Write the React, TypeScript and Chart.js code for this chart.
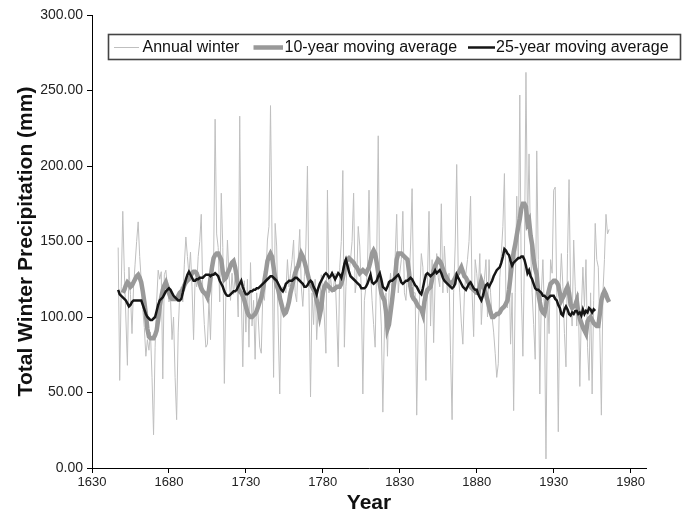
import React, { useEffect, useRef } from "react";
import { Chart, registerables } from "chart.js";

Chart.register(...registerables);

// ---------------- data ----------------
const annualStartYear = 1647;
const annualWinter: number[] = [
  146, 58, 120,
  170, 130, 100, 68, 133, 115, 89, 120, 135, 150,
  163, 140, 124, 105, 93, 74, 85, 78, 90, 60,
  22, 80, 110, 131, 125, 130, 59, 128, 131, 120,
  110, 113, 85, 100, 60, 32, 90, 115, 120, 110,
  135, 153, 140, 128, 143, 120, 85, 126, 120, 140,
  150, 168, 115, 95, 80, 82, 112, 85, 125, 133,
  231, 155, 146, 110, 182, 146, 56, 116, 151, 129,
  111, 129, 115, 127, 127, 100, 233, 116, 67, 124,
  90, 125, 80, 136, 94, 111, 72, 116, 100, 80,
  76, 116, 111, 127, 151, 160, 240, 151, 60, 162,
  147, 94, 49, 116, 120, 118, 116, 138, 120, 129,
  138, 151, 116, 110, 138, 158, 120, 107, 127, 147,
  200, 116, 47, 116, 95, 125, 85, 107, 110, 128,
  116, 100, 76, 184, 116, 127, 116, 120, 129, 100,
  67, 133, 150, 197, 80, 120, 138, 129, 138, 150,
  182, 116, 124, 160, 147, 116, 49, 111, 120, 131,
  184, 129, 111, 95, 80, 138, 220, 116, 94, 37,
  90, 116, 74, 116, 129, 116, 120, 140, 168, 116,
  129, 138, 170, 116, 111, 129, 120, 147, 185, 116,
  116, 35, 94, 116, 142, 133, 100, 58, 126, 170,
  94, 138, 83, 126, 142, 126, 120, 175, 116, 147,
  129, 116, 129, 75, 32, 116, 147, 201, 129, 116,
  96, 82, 116, 129, 138, 150, 180, 116, 87, 138,
  129, 116, 142, 95, 116, 125, 138, 100, 138, 116,
  100, 90, 76, 60, 69, 126, 142, 160, 195, 111,
  106, 138, 82, 116, 38, 116, 180, 138, 247, 116,
  74, 138, 262, 160, 208, 146, 116, 95, 72, 210,
  138, 49, 116, 138, 102, 6, 116, 89, 138, 129,
  184, 186, 116, 24, 116, 142, 120, 89, 67, 142,
  191, 116, 94, 151, 120, 94, 116, 54, 104, 133,
  107, 138, 80, 58, 116, 49, 111, 162, 138, 133,
  90, 35, 116, 138, 168, 155, 158,
];

const tenYearStartYear = 1650;
const tenYearAverage: number[] = [
  116, 118, 121, 123, 122, 120, 121, 123, 125, 127,
  128, 126, 123, 117, 110, 102, 92, 87, 86, 86,
  86, 88, 91, 98, 107, 113, 118, 121, 123, 120,
  116, 113, 112, 112, 112, 112, 114, 116, 117, 118,
  121, 123, 124, 125, 127, 129, 130, 130, 129, 126,
  122, 119, 117, 116, 115, 113, 118, 126, 133, 139,
  141, 142, 142, 140, 138, 130, 125, 126, 129, 131,
  134, 136, 137, 133, 127, 119, 117, 116, 114, 111,
  107, 103, 101, 100, 100, 101, 102, 104, 107, 110,
  113, 118, 124, 130, 137, 140, 142, 140, 133, 126,
  121, 118, 113, 109, 105, 102, 103, 106, 110, 116,
  120, 125, 129, 132, 134, 138, 142, 140, 137, 133,
  129, 125, 122, 120, 118, 116, 111, 107, 101, 106,
  116, 120, 122, 121, 120, 119, 118, 118, 119, 120,
  120, 120, 122, 126, 131, 137, 138, 139, 138, 137,
  136, 134, 133, 131, 129, 130, 131, 130, 129, 131,
  133, 137, 142, 144, 142, 136, 129, 122, 116, 113,
  111, 104, 92, 95, 103, 111, 120, 127, 138, 142,
  142, 142, 141, 140, 139, 138, 130, 120, 114, 112,
  111, 109, 107, 106, 105, 102, 110, 115, 118, 119,
  120, 125, 131, 134, 136, 138, 137, 135, 132, 129,
  127, 125, 123, 122, 123, 124, 126, 128, 129, 131,
  133, 130, 127, 126, 124, 122, 120, 119, 118, 117,
  116, 116, 120, 124, 121, 118, 115, 111, 107, 103,
  100, 100, 101, 102, 102, 103, 105, 106, 107, 109,
  111, 118, 127, 136, 143, 148, 154, 160, 165, 172,
  175, 175, 173, 162, 164, 154, 148, 138, 132, 128,
  116, 110, 105, 103, 102, 107, 114, 118, 122, 123,
  124, 124, 123, 121, 116, 111, 113, 115, 118, 120,
  116, 108, 106, 107, 108, 111, 103, 99, 96, 93,
  91, 89, 97, 99, 100, 98, 96, 95, 94, 94,
  102, 111, 115, 117, 115, 112, 110,
];

const twentyFiveStartYear = 1647;
const twentyFiveYearAverage: number[] = [
  118, 115, 114,
  113, 112, 111, 109, 107, 108, 110, 111, 111, 111,
  111, 111, 111, 108, 105, 102, 100, 99, 98, 98,
  99, 100, 104, 108, 111, 112, 113, 115, 117, 118,
  119, 118, 116, 114, 113, 112, 111, 111, 112, 116,
  121, 125, 128, 130, 128, 126, 124, 124, 125, 125,
  126, 126, 126, 127, 128, 128, 128, 127, 128, 128,
  129, 128, 127, 124, 122, 120, 117, 115, 114, 114,
  115, 116, 117, 117, 118, 120, 122, 124, 120, 117,
  115, 115, 116, 117, 117, 118, 118, 119, 119, 120,
  121, 122, 123, 124, 125, 126, 127, 127, 126, 125,
  124, 122, 120, 118, 117, 119, 122, 123, 124, 124,
  124, 125, 126, 126, 125, 124, 123, 122, 120, 120,
  121, 123, 124, 123, 120, 118, 115, 119, 122, 124,
  126, 128, 129, 128, 126, 127, 129, 127, 125, 127,
  129, 128, 126, 130, 135, 138, 134, 130, 127, 126,
  125, 124, 123, 122, 121, 119, 119, 119, 120, 122,
  125, 128, 123, 122, 123, 124, 127, 129, 125, 120,
  119, 118, 120, 123, 124, 124, 125, 126, 127, 128,
  126, 123, 122, 123, 124, 124, 125, 126, 125, 123,
  121, 120, 118, 116, 115, 119, 124, 128, 129, 128,
  127, 128, 129, 131, 129, 130, 131, 129, 126, 124,
  123, 122, 121, 120, 119, 120, 122, 128, 126, 124,
  122, 120, 119, 118, 120, 122, 123, 121, 119, 118,
  118, 115, 113, 111, 114, 118, 121, 122, 120, 122,
  124, 127, 129, 131, 132, 133, 136, 140, 145, 144,
  142, 141, 137, 134, 136, 137, 138, 139, 139, 140,
  140, 138, 134, 129, 131, 127, 125, 122, 119, 118,
  118, 117, 116, 114, 114, 113, 112, 113, 114, 114,
  114, 112, 111, 108, 106, 102, 101, 105, 107, 105,
  102, 101, 103, 102, 104, 104, 102, 103, 101, 105,
  102, 104, 103, 106, 105, 103, 105, 104,
];

const seriesLabels = ["Annual winter", "10-year moving average", "25-year moving average"];
const xMin = 1630;
const xMax = 1990;
const xStep = 50;
const yMin = 0;
const yMax = 300;
const yStep = 50;
const xTitle = "Year";
const yTitle = "Total Winter Precipitation (mm)";

// ---------------- styles ----------------
const FONT = '"Liberation Sans", Arial, Helvetica, sans-serif';
const annualColor = "#bfbfbf";
const tenColor = "#999999";
const twentyFiveColor = "#151515";

const toPoints = (start: number, vals: number[]) =>
  vals.map((v, i) => ({ x: start + i, y: v }));

const boxLegendPlugin = {
  id: "boxLegend",
  afterDraw(chart: any) {
    const ctx = chart.ctx as CanvasRenderingContext2D;
    ctx.save();
    ctx.fillStyle = "#ffffff";
    ctx.fillRect(108, 34, 573, 26);
    ctx.strokeStyle = "#444444";
    ctx.lineWidth = 1.6;
    ctx.strokeRect(108.5, 34.5, 572, 25);
    const items = [
      { x0: 114, x1: 139, tx: 142.5, color: annualColor, w: 1 },
      { x0: 253.5, x1: 283, tx: 284.5, color: tenColor, w: 4.5 },
      { x0: 468, x1: 495, tx: 496, color: twentyFiveColor, w: 2.5 },
    ];
    const cy = 47.5;
    ctx.font = `16px ${FONT}`;
    ctx.textBaseline = "middle";
    ctx.textAlign = "left";
    items.forEach((it, i) => {
      ctx.beginPath();
      ctx.strokeStyle = it.color;
      ctx.lineWidth = it.w;
      ctx.moveTo(it.x0, cy);
      ctx.lineTo(it.x1, cy);
      ctx.stroke();
      ctx.fillStyle = "#111111";
      ctx.fillText(seriesLabels[i], it.tx, cy + 0.5);
    });
    ctx.restore();
  },
};

export default function App() {
  const canvasRef = useRef<HTMLCanvasElement | null>(null);

  useEffect(() => {
    if (!canvasRef.current) return;
    const chart = new Chart(canvasRef.current, {
      type: "line",
      data: {
        datasets: [
          {
            label: seriesLabels[0],
            data: toPoints(annualStartYear, annualWinter),
            borderColor: annualColor,
            borderWidth: 1,
            pointRadius: 0,
            tension: 0,
            order: 3,
          },
          {
            label: seriesLabels[1],
            data: toPoints(tenYearStartYear, tenYearAverage),
            borderColor: tenColor,
            borderWidth: 4.5,
            pointRadius: 0,
            tension: 0,
            order: 2,
          },
          {
            label: seriesLabels[2],
            data: toPoints(twentyFiveStartYear, twentyFiveYearAverage),
            borderColor: twentyFiveColor,
            borderWidth: 2.5,
            pointRadius: 0,
            tension: 0,
            order: 1,
          },
        ],
      },
      options: {
        animation: false,
        responsive: false,
        devicePixelRatio: 1,
        layout: { padding: { left: 0, right: 44, top: 15, bottom: 0 } },
        plugins: {
          legend: { display: false },
          tooltip: { enabled: false },
        },
        scales: {
          x: {
            type: "linear",
            min: xMin,
            max: xMax,
            afterFit: (s: any) => {
              s.height = 44;
            },
            afterBuildTicks: (s: any) => {
              const t = [];
              for (let v = xMin; v < xMax; v += xStep) t.push({ value: v });
              s.ticks = t;
            },
            ticks: {
              callback: (v: any) => String(v),
              font: { family: FONT, size: 13 },
              color: "#222",
              padding: 2,
              maxRotation: 0,
              autoSkip: false,
            },
            grid: {
              display: true,
              drawOnChartArea: false,
              drawTicks: true,
              tickLength: 5,
              color: "#000",
            },
            border: { display: true, color: "#000", width: 1 },
            title: {
              display: true,
              text: xTitle,
              font: { family: FONT, size: 21, weight: "bold" },
              color: "#111",
              padding: { top: 0, bottom: -4 },
            },
          },
          y: {
            type: "linear",
            min: yMin,
            max: yMax,
            afterFit: (s: any) => {
              s.width = 92;
            },
            ticks: {
              stepSize: yStep,
              callback: (v: any) => Number(v).toFixed(2),
              font: { family: FONT, size: 14 },
              color: "#222",
              padding: 4,
            },
            grid: {
              display: true,
              drawOnChartArea: false,
              drawTicks: true,
              tickLength: 5,
              color: "#000",
            },
            border: { display: true, color: "#000", width: 1 },
            title: {
              display: true,
              text: yTitle,
              font: { family: FONT, size: 21, weight: "bold" },
              color: "#111",
              padding: { top: 14, bottom: 0 },
            },
          },
        },
      },
      plugins: [boxLegendPlugin],
    } as any);
    return () => chart.destroy();
  }, []);

  return (
    <div style={{ position: "fixed", left: 0, top: 0, width: 690, height: 512, background: "#fff" }}>
      <canvas ref={canvasRef} width={690} height={512} style={{ display: "block", width: 690, height: 512 }} />
    </div>
  );
}
